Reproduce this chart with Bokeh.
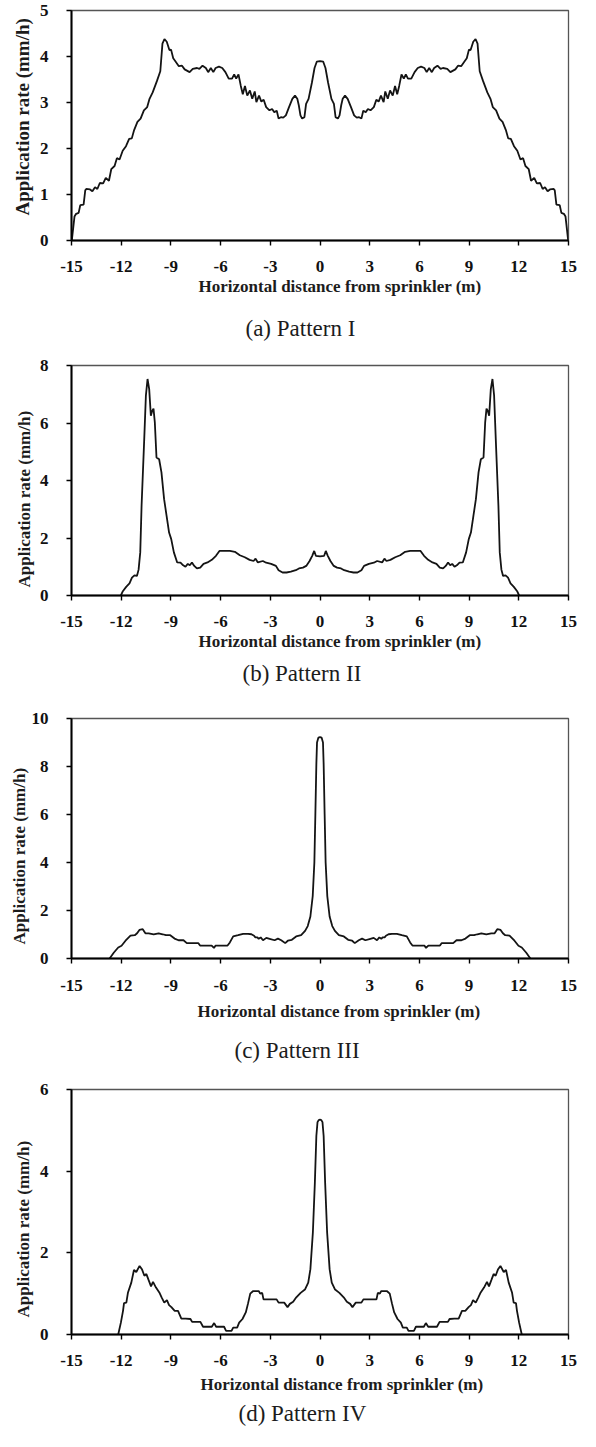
from bokeh.plotting import figure
from bokeh.layouts import column
from bokeh.models import Range1d, FixedTicker, Title
from bokeh.embed import file_html
from bokeh.resources import INLINE

# ---------------- data (left half; curves are symmetric) -------------
X_TICKS = [-15, -12, -9, -6, -3, 0, 3, 6, 9, 12, 15]
X_TITLE = "Horizontal distance from sprinkler (m)"
Y_TITLE = "Application rate (mm/h)"

P1_LEFT = [(-14.98, 0.0), (-14.82, 0.52), (-14.72, 0.58), (-14.57, 0.6), (-14.47, 0.77), (-14.27, 0.78),
           (-14.17, 1.09), (-14.11, 1.12), (-13.88, 1.11), (-13.74, 1.07), (-13.58, 1.16), (-13.44, 1.12),
           (-13.29, 1.25), (-13.09, 1.24), (-12.93, 1.36), (-12.74, 1.3), (-12.6, 1.55), (-12.4, 1.62),
           (-12.26, 1.79), (-12.1, 1.76), (-11.91, 1.95), (-11.71, 2.05), (-11.52, 2.21), (-11.36, 2.22),
           (-11.22, 2.4), (-11.02, 2.58), (-10.83, 2.65), (-10.63, 2.83), (-10.43, 2.9), (-10.29, 3.08),
           (-10.1, 3.22), (-9.84, 3.47), (-9.64, 3.68), (-9.51, 4.28), (-9.39, 4.38), (-9.25, 4.32),
           (-9.09, 4.14), (-8.99, 4.15), (-8.86, 3.96), (-8.72, 3.89), (-8.52, 3.79), (-8.33, 3.8),
           (-8.17, 3.72), (-7.87, 3.66), (-7.68, 3.73), (-7.42, 3.75), (-7.28, 3.73), (-7.09, 3.8),
           (-6.89, 3.75), (-6.75, 3.66), (-6.59, 3.75), (-6.44, 3.66), (-6.3, 3.75), (-6.1, 3.78),
           (-5.9, 3.75), (-5.71, 3.66), (-5.51, 3.52), (-5.31, 3.52), (-5.18, 3.61), (-5.06, 3.52),
           (-4.92, 3.61), (-4.78, 3.36), (-4.66, 3.18), (-4.53, 3.36), (-4.39, 3.15), (-4.23, 3.26),
           (-4.09, 3.08), (-3.94, 3.24), (-3.84, 3.01), (-3.68, 3.15), (-3.54, 3.02), (-3.4, 3.06),
           (-3.25, 2.9), (-3.05, 2.83), (-2.89, 2.86), (-2.76, 2.79), (-2.61, 2.82), (-2.5, 2.65),
           (-2.36, 2.68), (-2.22, 2.67), (-2.06, 2.72), (-1.87, 2.9), (-1.67, 3.08), (-1.51, 3.15),
           (-1.37, 3.08), (-1.28, 2.94), (-1.18, 2.72), (-1.08, 2.65), (-0.94, 2.68), (-0.84, 2.97),
           (-0.69, 3.08), (-0.49, 3.43), (-0.33, 3.75), (-0.19, 3.89)]
P1_CENTER = 3.9

P2_LEFT = [(-12.02, 0.0), (-11.9, 0.15), (-11.7, 0.3), (-11.5, 0.42), (-11.35, 0.62), (-11.2, 0.7),
           (-11.05, 0.68), (-10.95, 0.9), (-10.85, 1.5), (-10.77, 3.12), (-10.61, 5.44), (-10.51, 6.95),
           (-10.41, 7.53), (-10.31, 7.18), (-10.21, 6.25), (-10.13, 6.42), (-10.05, 6.5), (-9.97, 6.02),
           (-9.87, 4.8), (-9.71, 4.74), (-9.57, 4.28), (-9.41, 3.35), (-9.26, 2.77), (-9.11, 2.19),
           (-8.98, 1.96), (-8.82, 1.5), (-8.62, 1.15), (-8.42, 1.14), (-8.26, 1.05), (-8.12, 1.0),
           (-7.98, 1.1), (-7.86, 1.05), (-7.73, 1.15), (-7.59, 1.03), (-7.43, 0.94), (-7.23, 0.97),
           (-7.03, 1.1), (-6.79, 1.15), (-6.53, 1.24), (-6.28, 1.38), (-6.07, 1.55), (-5.83, 1.55),
           (-5.44, 1.55), (-5.14, 1.52), (-4.84, 1.4), (-4.54, 1.33), (-4.25, 1.24), (-4.01, 1.2),
           (-3.89, 1.28), (-3.75, 1.15), (-3.45, 1.2), (-3.25, 1.14), (-2.95, 1.1), (-2.66, 1.03),
           (-2.5, 0.88), (-2.26, 0.8), (-2.02, 0.8), (-1.76, 0.83), (-1.46, 0.88), (-1.27, 0.94),
           (-1.03, 0.97), (-0.83, 1.03), (-0.63, 1.2), (-0.47, 1.38), (-0.35, 1.55), (-0.25, 1.38)]
P2_CENTER = 1.36

P3_LEFT = [(-12.7, 0.0), (-12.44, 0.25), (-12.18, 0.46), (-11.98, 0.53), (-11.74, 0.74), (-11.44, 0.95),
           (-11.18, 0.97), (-11.04, 1.05), (-10.9, 1.19), (-10.7, 1.22), (-10.54, 1.05), (-10.34, 1.05),
           (-10.04, 1.01), (-9.74, 1.05), (-9.5, 1.01), (-9.3, 0.97), (-9.04, 0.97), (-8.78, 0.83),
           (-8.54, 0.76), (-8.24, 0.76), (-8.04, 0.64), (-7.74, 0.64), (-7.34, 0.64), (-7.24, 0.54),
           (-6.84, 0.54), (-6.54, 0.54), (-6.4, 0.44), (-6.3, 0.54), (-5.94, 0.54), (-5.58, 0.54),
           (-5.44, 0.67), (-5.24, 0.92), (-4.94, 0.97), (-4.64, 1.03), (-4.34, 1.03), (-4.14, 1.01),
           (-3.98, 0.95), (-3.9, 0.88), (-3.78, 0.88), (-3.7, 0.82), (-3.58, 0.88), (-3.44, 0.76),
           (-3.24, 0.86), (-3.04, 0.82), (-2.74, 0.76), (-2.54, 0.83), (-2.34, 0.76), (-2.1, 0.64),
           (-1.94, 0.74), (-1.7, 0.78), (-1.44, 0.92), (-1.14, 0.97), (-0.9, 1.15), (-0.74, 1.35),
           (-0.58, 1.75), (-0.44, 2.6), (-0.34, 4.0), (-0.28, 6.0), (-0.22, 8.1), (-0.18, 9.0),
           (-0.1, 9.2)]
P3_CENTER = 9.22

P4_LEFT = [(-12.18, 0.0), (-12.02, 0.29), (-11.89, 0.58), (-11.83, 0.77), (-11.69, 0.78), (-11.59, 1.03),
           (-11.39, 1.27), (-11.23, 1.58), (-11.09, 1.53), (-10.89, 1.68), (-10.75, 1.6), (-10.6, 1.44),
           (-10.48, 1.48), (-10.36, 1.35), (-10.2, 1.18), (-10.08, 1.29), (-9.9, 1.15), (-9.7, 1.03),
           (-9.56, 0.91), (-9.4, 0.78), (-9.24, 0.84), (-9.11, 0.72), (-8.97, 0.67), (-8.77, 0.58),
           (-8.57, 0.58), (-8.37, 0.39), (-8.11, 0.39), (-7.82, 0.38), (-7.72, 0.31), (-7.22, 0.31),
           (-7.06, 0.19), (-6.53, 0.19), (-6.39, 0.28), (-6.27, 0.19), (-5.79, 0.19), (-5.67, 0.09),
           (-5.34, 0.09), (-5.24, 0.17), (-5.0, 0.17), (-4.88, 0.29), (-4.68, 0.38), (-4.48, 0.54),
           (-4.35, 0.75), (-4.21, 1.0), (-4.05, 1.06), (-3.69, 1.06), (-3.61, 1.0), (-3.49, 1.02),
           (-3.41, 0.86), (-3.05, 0.86), (-2.62, 0.86), (-2.5, 0.78), (-2.16, 0.78), (-1.96, 0.67),
           (-1.82, 0.75), (-1.62, 0.8), (-1.43, 0.91), (-1.17, 1.02), (-0.91, 1.1), (-0.71, 1.27),
           (-0.58, 1.6), (-0.43, 2.5), (-0.31, 3.72), (-0.22, 4.86), (-0.15, 5.2), (-0.08, 5.25)]
P4_CENTER = 5.26

CAPTIONS = ["(a) Pattern I", "(b) Pattern II", "(c) Pattern III", "(d) Pattern IV"]
Y_MAX = [5, 8, 10, 6]
Y_TICKS = [[0, 1, 2, 3, 4, 5], [0, 2, 4, 6, 8], [0, 2, 4, 6, 8, 10], [0, 2, 4, 6]]

SERIF = "Liberation Serif"


def mirrored(pairs, center):
    xl = [p[0] for p in pairs]
    yl = [p[1] for p in pairs]
    xs = xl + [0.0] + [-x for x in reversed(xl)]
    ys = yl + [center] + list(reversed(yl))
    return xs, ys


def panel(pairs, center, ymax, yticks, caption, h, bl, br, bt, bb, lay):
    p = figure(width=580, height=h, x_range=Range1d(-15, 15), y_range=Range1d(0, ymax),
               output_backend="svg", toolbar_location=None,
               min_border_left=bl, min_border_right=br, min_border_top=bt, min_border_bottom=bb)
    p.background_fill_color = "white"
    p.border_fill_color = "white"
    p.outline_line_color = "#555555"
    p.outline_line_width = 1.3
    p.xgrid.visible = False
    p.ygrid.visible = False
    xs, ys = mirrored(pairs, center)
    p.line(xs, ys, line_color="#141414", line_width=1.8)

    for ax in (p.xaxis[0], p.yaxis[0]):
        ax.axis_line_color = "black"
        ax.axis_line_width = 2
        ax.major_tick_line_color = "black"
        ax.major_tick_line_width = 1.4
        ax.major_tick_in = 0
        ax.major_tick_out = 5
        ax.minor_tick_line_color = None
        ax.major_label_text_font = SERIF
        ax.major_label_text_font_size = "17px"
        ax.major_label_text_font_style = "bold"
        ax.major_label_text_color = "#111111"
    p.xaxis.ticker = FixedTicker(ticks=X_TICKS)
    p.xaxis.major_label_overrides = {t: str(t) for t in X_TICKS}
    p.yaxis.ticker = FixedTicker(ticks=yticks)
    p.yaxis.major_label_overrides = {t: str(t) for t in yticks}
    p.xaxis.major_label_standoff = lay["xstand"]
    p.yaxis.major_label_standoff = 18

    # y-axis title (left side, placed along the axis with an offset from the bottom)
    p.add_layout(Title(text=Y_TITLE, align="left", offset=lay["yt_off"], standoff=lay["yt_s"],
                       text_font=SERIF, text_font_size=lay["ytsize"], text_font_style="bold",
                       text_color="#1c1c1c"), "left")
    # x-axis title
    p.add_layout(Title(text=X_TITLE, align="left", offset=lay["xt_off"], standoff=lay["xt_s"],
                       text_font=SERIF, text_font_size="17px", text_font_style="bold",
                       text_color="#1c1c1c"), "below")
    # blank gap between axis title and caption
    if lay["gap"] is not None:
        p.add_layout(Title(text=" ", standoff=lay["gap"], text_font_size="1px",
                           text_color="white"), "below")
    # caption
    p.add_layout(Title(text=caption, align="left", offset=lay["cap_off"], standoff=0,
                       text_font=SERIF, text_font_size="23px", text_font_style="normal",
                       text_color="#1c1c1c"), "below")
    return p


p1 = panel(P1_LEFT, P1_CENTER, Y_MAX[0], Y_TICKS[0], CAPTIONS[0], 347, 63, 9, 10, 107,
           dict(xstand=15, xt_off=127, xt_s=0, gap=15, cap_off=174,
                yt_off=25, yt_s=8, ytsize="19px"))
p2 = panel(P2_LEFT, P2_CENTER, Y_MAX[1], Y_TICKS[1], CAPTIONS[1], 350, 65, 12, 18, 102,
           dict(xstand=15, xt_off=127, xt_s=0, gap=5, cap_off=171,
                yt_off=8, yt_s=6, ytsize="17px"))
p3 = panel(P3_LEFT, P3_CENTER, Y_MAX[2], Y_TICKS[2], CAPTIONS[2], 375, 71, 9, 21, 114,
           dict(xstand=16, xt_off=126, xt_s=12, gap=6, cap_off=163,
                yt_off=14, yt_s=0, ytsize="17px"))
p4 = panel(P4_LEFT, P4_CENTER, Y_MAX[3], Y_TICKS[3], CAPTIONS[3], 359, 68, 8, 17, 97,
           dict(xstand=15, xt_off=129, xt_s=9, gap=None, cap_off=167,
                yt_off=17, yt_s=8, ytsize="17px"))

layout = column(p1, p2, p3, p4, spacing=0)
open("out.html", "w").write(file_html(layout, INLINE))
